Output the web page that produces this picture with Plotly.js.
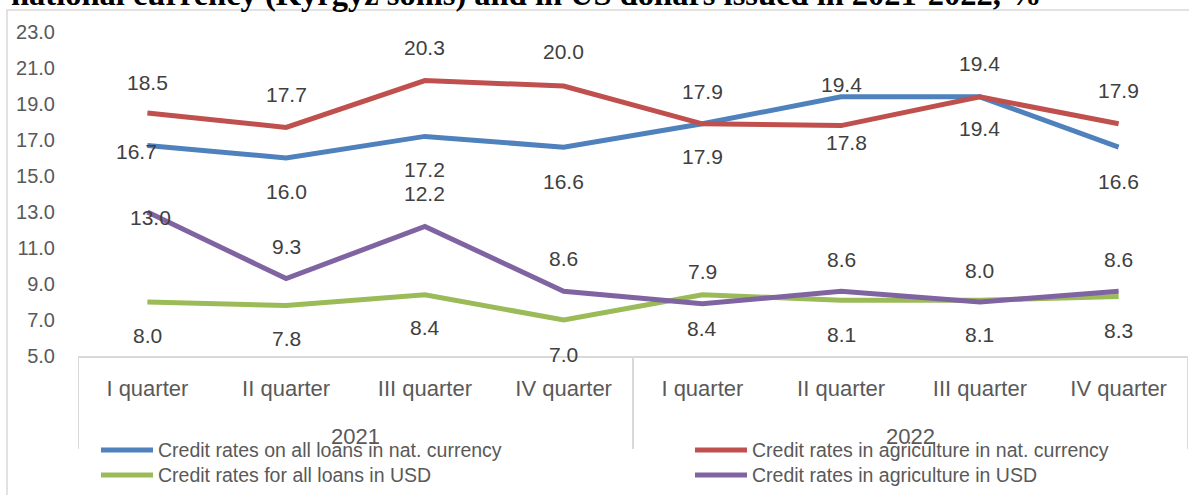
<!DOCTYPE html>
<html>
<head>
<meta charset="utf-8">
<script src="https://cdn.plot.ly/plotly-3.0.1.min.js"></script>
<style>
  html, body { margin: 0; padding: 0; background: #ffffff; }
  #chart { width: 1189px; height: 495px; }
</style>
</head>
<body>
<div id="chart"></div>
<script>
// ---- data ----
const titleText = "national currency (Kyrgyz soms) and in US dollars issued in 2021-2022, %";
const quarters = ["I quarter", "II quarter", "III quarter", "IV quarter", "I quarter", "II quarter", "III quarter", "IV quarter"];
const years = ["2021", "2022"];
const seriesNames = [
  "Credit rates on all loans in nat. currency",
  "Credit rates in agriculture in nat. currency",
  "Credit rates for all loans in USD",
  "Credit rates in agriculture in USD"
];
const allLoansNat = [16.7, 16.0, 17.2, 16.6, 17.9, 19.4, 19.4, 16.6];
const agriNat     = [18.5, 17.7, 20.3, 20.0, 17.9, 17.8, 19.4, 17.9];
const allLoansUSD = [8.0, 7.8, 8.4, 7.0, 8.4, 8.1, 8.1, 8.3];
const agriUSD     = [13.0, 9.3, 12.2, 8.6, 7.9, 8.6, 8.0, 8.6];

// ---- styling / label placement (pixel offsets dx, dy; dy positive = down) ----
const colors = ["#4F81BD", "#C0504D", "#9BBB59", "#8064A2"];
const labelOffsets = [
  [[-11, 6], [0, 33], [0, 33], [0, 34], [0, 33], [0, -12], [0, 32], [0, 34]],
  [[0, -31], [0, -33], [0, -33], [0, -35], [0, -32], [5, 17], [0, -33], [0, -33]],
  [[0, 33], [0, 33], [0, 33], [0, 34], [0, 34], [0, 34], [0, 34], [0, 34]],
  [[3, 5], [0, -32], [0, -33], [0, -33], [0, -32], [0, -32], [0, -32], [0, -32]]
];
// legend slots: [line start x px, row center y px]
const legendSlots = [[99, 450], [693, 450], [99, 475], [693, 475]];

const W = 1189, H = 495;
const M = { l: 78, r: 1, t: 32, b: 139 };
const plotW = W - M.l - M.r, plotH = H - M.t - M.b;
const px2paperX = px => (px - M.l) / plotW;
const py2paperY = py => (H - M.b - py) / plotH;

const xIdx = quarters.map((_, i) => i);
const allSeries = [allLoansNat, agriNat, allLoansUSD, agriUSD];

const traces = allSeries.map((vals, s) => ({
  type: "scatter",
  mode: "lines",
  x: xIdx,
  y: vals,
  name: seriesNames[s],
  line: { color: colors[s], width: 5 },
  hoverinfo: "skip",
  showlegend: false
}));

const FONT = "Liberation Sans, Arial, sans-serif";
const annotations = [];
// data labels
allSeries.forEach((vals, s) => {
  vals.forEach((v, i) => {
    annotations.push({
      xref: "x", yref: "y", x: i, y: v,
      text: v.toFixed(1),
      showarrow: false,
      xshift: labelOffsets[s][i][0],
      yshift: -labelOffsets[s][i][1],
      font: { family: FONT, size: 21, color: "#404040" }
    });
  });
});
// year group labels
years.forEach((yr, g) => {
  annotations.push({
    xref: "x", yref: "paper", x: g * 4 + 1.5, y: py2paperY(436),
    yanchor: "middle",
    text: yr, showarrow: false,
    font: { family: FONT, size: 22, color: "#595959" }
  });
});
// title (cut off at top as in reference)
annotations.push({
  xref: "paper", yref: "paper", x: px2paperX(9), y: py2paperY(14),
  xanchor: "left", yanchor: "bottom",
  text: "<b>" + titleText + "</b>", showarrow: false,
  font: { family: "Liberation Serif, Times New Roman, serif", size: 32.5, color: "#000000" }
});

const shapes = [];
// outer chart border
shapes.push({
  type: "rect", xref: "paper", yref: "paper",
  x0: px2paperX(7), x1: px2paperX(1200), y0: py2paperY(10), y1: py2paperY(520),
  line: { color: "#d9d9d9", width: 1.5 }, fillcolor: "rgba(0,0,0,0)", layer: "below"
});
// category group dividers
[-0.5, 3.5, 7.5].forEach(xv => {
  shapes.push({
    type: "line", xref: "x", yref: "paper",
    x0: xv, x1: xv, y0: 0, y1: py2paperY(449),
    line: { color: "#d9d9d9", width: 2 }
  });
});
// legend (drawn manually to match the reference layout)
seriesNames.forEach((nm, s) => {
  const [lx, ly] = legendSlots[s];
  shapes.push({
    type: "line", xref: "paper", yref: "paper",
    x0: px2paperX(lx + 2), x1: px2paperX(lx + 54),
    y0: py2paperY(ly), y1: py2paperY(ly),
    line: { color: colors[s], width: 5 }
  });
  annotations.push({
    xref: "paper", yref: "paper", x: px2paperX(lx + 57), y: py2paperY(ly),
    xanchor: "left", yanchor: "middle",
    text: nm, showarrow: false,
    font: { family: FONT, size: 19.5, color: "#595959" }
  });
});

const layout = {
  width: W, height: H,
  margin: M,
  paper_bgcolor: "#ffffff",
  plot_bgcolor: "#ffffff",
  showlegend: false,
  font: { family: FONT, color: "#595959" },
  xaxis: {
    range: [-0.5, 7.5],
    tickvals: xIdx,
    ticktext: quarters,
    tickfont: { size: 22, color: "#595959" },
    showgrid: false, zeroline: false,
    showline: true, linecolor: "#d9d9d9", linewidth: 2,
    ticks: "", ticklabelstandoff: 12,
    automargin: false,
    fixedrange: true
  },
  yaxis: {
    range: [5, 23],
    dtick: 2, tick0: 5,
    tickformat: ".1f",
    tickfont: { size: 20, color: "#595959" },
    showgrid: false, zeroline: false, showline: false,
    ticks: "", ticklabelstandoff: 22,
    automargin: false,
    fixedrange: true
  },
  annotations: annotations,
  shapes: shapes
};

Plotly.newPlot("chart", traces, layout, { staticPlot: true, displayModeBar: false });
</script>
</body>
</html>
